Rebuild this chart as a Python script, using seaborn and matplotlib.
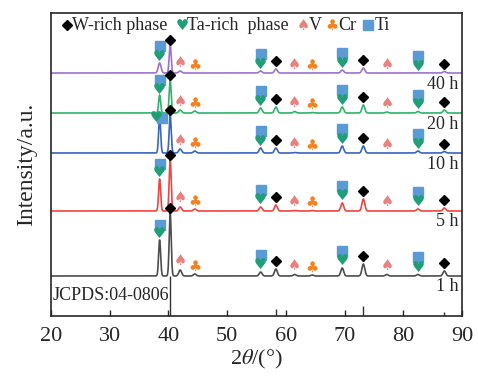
import numpy as np
import pandas as pd
import seaborn as sns
import matplotlib.pyplot as plt

# peak positions (2theta) and the phase marked above each
peak_pos = [38.5, 40.3, 42.0, 44.5, 55.7, 58.3, 61.5, 64.5, 69.6, 73.2, 77.2, 82.5, 87.0]
peak_phase = ['TaTi', 'W', 'V', 'Cr', 'TaTi', 'W', 'V', 'Cr', 'TaTi', 'W', 'V', 'TaTi', 'W']

samples = ['1 h', '5 h', '10 h', '20 h', '40 h']
baselines = [40, 105, 163, 203, 243]
heights = {
    '1 h':  [36, 63, 6, 2, 4, 7, 1.5, 1, 8, 12, 1.5, 1.5, 5],
    '5 h':  [32, 51, 4, 2, 4, 6, 0.5, 0.5, 8, 12, 0, 2, 3],
    '10 h': [36, 38, 4, 2, 5, 5, 0.5, 0, 7, 7, 0, 2, 1.5],
    '20 h': [18, 33, 3, 2, 5, 6, 1.5, 0.5, 6, 8, 1, 1.5, 3],
    '40 h': [10, 28, 2, 0, 2, 4, 0, 0, 3, 5, 0, 0, 1.5],
}
colors = {'1 h': '#4d4d4d', '5 h': '#f0443f', '10 h': '#3a64c0',
          '20 h': '#2fb36a', '40 h': '#9b72cf'}

jcpds_pos = [40.3, 58.3, 73.2, 87.0]
jcpds_int = [40, 7, 10, 4]

c_w, c_ta, c_v, c_cr, c_ti = 'black', '#1f9e78', '#e8827f', '#f5821f', '#5b9bd5'

# build the profiles
x = np.arange(20, 90.01, 0.02)
rows = []
for s, b in zip(samples, baselines):
    y = np.full_like(x, b, dtype=float)
    for p, h in zip(peak_pos, heights[s]):
        w = 0.17 if h > 15 else 0.24
        y += h * np.exp(-0.5 * ((x - p) / w) ** 2)
    rows.append(pd.DataFrame({'two_theta': x, 'intensity': y, 'sample': s}))
df = pd.concat(rows)

sns.set_style('ticks')
plt.rcParams['font.family'] = ['Liberation Serif', 'DejaVu Sans']
plt.rcParams['mathtext.fontset'] = 'stix'

fig = plt.figure(figsize=(4.78, 3.76), dpi=100)
ax = fig.add_axes([0.1067, 0.1596, 0.8598, 0.8058])

sns.lineplot(data=df, x='two_theta', y='intensity', hue='sample', palette=colors,
             estimator=None, sort=False, lw=1.2, legend=False, ax=ax)

ax.vlines(jcpds_pos, 0, jcpds_int, color='#333333', lw=1.0)


def glyph(xx, yy, ch, col, size=10.5):
    ax.text(xx, yy, ch, color=col, fontsize=size, ha='center', va='center',
            family='DejaVu Sans')


for s, b in zip(samples, baselines):
    for p, ph, h in zip(peak_pos, peak_phase, heights[s]):
        top = b + h
        if ph == 'TaTi':
            if s == '10 h' and p == 38.5:
                glyph(38.0, top, '\u2665', c_ta)
                ax.plot(38.95, top - 1, 's', ms=6.5, color=c_ti)
            else:
                glyph(p, top + 6 if h > 15 else top + 7, '\u2665', c_ta)
                ax.plot(p, top + 15 if h > 15 else top + 17, 's', ms=6.5, color=c_ti)
        elif ph == 'W':
            ax.plot(p, top + (5 if h > 15 else 8), 'D', ms=5, color=c_w)
        elif ph == 'V':
            glyph(p, top + 9, '\u2660', c_v)
        else:
            glyph(p, top + 8, '\u2663', c_cr)

    ax.text(89.4, b - 11, s, fontsize=13, ha='right', va='center')

# legend row across the top
ly = 291
ax.plot(22.7, ly, 'D', ms=5, color=c_w)
ax.text(23.5, ly, 'W-rich phase', fontsize=13, va='center')
glyph(42.3, ly, '\u2665', c_ta)
ax.text(43.2, ly, 'Ta-rich  phase', fontsize=13, va='center')
glyph(62.9, ly, '\u2660', c_v)
ax.text(63.9, ly, 'V', fontsize=13, va='center')
glyph(67.9, ly, '\u2663', c_cr)
ax.text(68.9, ly, 'Cr', fontsize=13, va='center')
ax.plot(74.0, ly, 's', ms=6.5, color=c_ti)
ax.text(75.2, ly, 'Ti', fontsize=13, va='center')

ax.text(20.2, 20, 'JCPDS:04-0806', fontsize=13, va='center')

ax.set_xlim(20, 90)
ax.set_ylim(0, 303)
ax.set_xticks(range(20, 91, 10))
ax.set_yticks([])
ax.tick_params(axis='x', direction='in', length=4, width=1, labelsize=16, pad=8)
ax.set_xlabel(r'2$\theta$/(°)', fontsize=16, labelpad=1)
ax.set_ylabel('Intensity/a.u.', fontsize=17, labelpad=10)
for sp in ax.spines.values():
    sp.set_visible(True)
    sp.set_linewidth(1.2)

fig.savefig('out.png', dpi=100)
